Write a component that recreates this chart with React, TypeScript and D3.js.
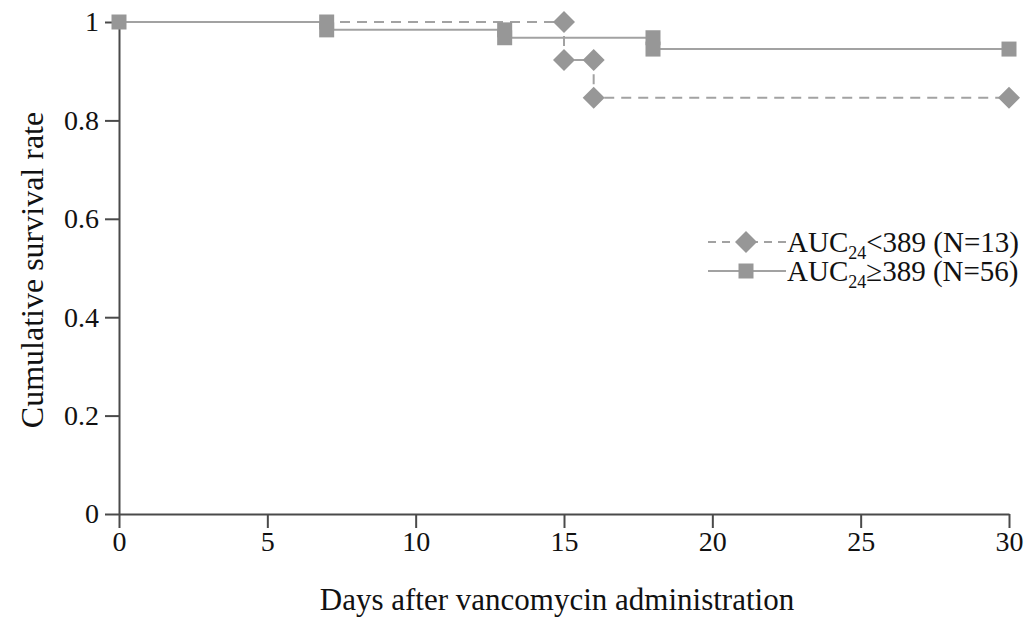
import React, { Component } from "react";
import * as d3 from "d3";

// Kaplan-Meier data
const xTicks = [0, 5, 10, 15, 20, 25, 30];
const yTicks = [0, 0.2, 0.4, 0.6, 0.8, 1];

// AUC24 < 389 (N=13), dashed with diamonds
const lowCurve = [[0, 1], [15, 0.923], [16, 0.846], [30, 0.846]];
const lowMarks = [[15, 1], [15, 0.923], [16, 0.923], [16, 0.846], [30, 0.846]];

// AUC24 >= 389 (N=56), solid with squares
const highCurve = [[0, 1], [7, 0.984], [13, 0.968], [18, 0.945], [30, 0.945]];
const highMarks = [[0, 1], [7, 1], [7, 0.984], [13, 0.984], [13, 0.968], [18, 0.968], [18, 0.945], [30, 0.945]];

const legendItems = [
  { sub: "24", rest: "<389 (N=13)", dashed: true },
  { sub: "24", rest: "\u2265389 (N=56)", dashed: false }
];

const W = 1028, H = 617;
const lineColor = "#a2a2a2";
const markColor = "#979797";
const axisColor = "#4a4a4a";
const font = "'Liberation Serif', 'Times New Roman', serif";

class App extends Component {
  svgRef = React.createRef<SVGSVGElement>();

  componentDidMount() {
    const svg = d3.select(this.svgRef.current);
    svg.selectAll("*").remove();

    const x = d3.scaleLinear().domain([0, 30]).range([119, 1009]);
    const y = d3.scaleLinear().domain([0, 1]).range([514, 22]);

    // axes
    const xAxis = svg.append("g").attr("transform", `translate(0,${y(0)})`)
      .call(d3.axisBottom(x).tickValues(xTicks).tickSize(14).tickPadding(3).tickSizeOuter(0).tickFormat(d3.format("d")));
    const yAxis = svg.append("g").attr("transform", `translate(${x(0)},0)`)
      .call(d3.axisLeft(y).tickValues(yTicks).tickSize(14).tickPadding(6).tickSizeOuter(0).tickFormat(d => d === 0 || d === 1 ? String(d) : d3.format(".1f")(d as number)));
    [xAxis, yAxis].forEach(a => {
      a.select(".domain").attr("stroke", axisColor).attr("stroke-width", 2);
      a.selectAll(".tick line").attr("stroke", axisColor).attr("stroke-width", 2);
      a.selectAll(".tick text").attr("fill", "#111").style("font-family", font).style("font-size", "28px");
    });

    const line = d3.line<number[]>().x(d => x(d[0])).y(d => y(d[1])).curve(d3.curveStepAfter);

    svg.append("path").attr("d", line(lowCurve)).attr("fill", "none")
      .attr("stroke", lineColor).attr("stroke-width", 2).attr("stroke-dasharray", "10,7");
    svg.append("path").attr("d", line(highCurve)).attr("fill", "none")
      .attr("stroke", lineColor).attr("stroke-width", 2);

    const diamond = (cx: number, cy: number, r: number) => `M${cx},${cy - r}L${cx + r},${cy}L${cx},${cy + r}L${cx - r},${cy}Z`;

    svg.append("g").selectAll("path").data(lowMarks).join("path")
      .attr("d", d => diamond(x(d[0]), y(d[1]), 11)).attr("fill", markColor);
    svg.append("g").selectAll("rect").data(highMarks).join("rect")
      .attr("x", d => x(d[0]) - 7.5).attr("y", d => y(d[1]) - 7.5)
      .attr("width", 15).attr("height", 15).attr("fill", markColor);

    // legend
    const lg = svg.append("g").selectAll("g").data(legendItems).join("g")
      .attr("transform", (d, i) => `translate(708,${242 + i * 29})`);
    lg.append("line").attr("x1", 0).attr("x2", 78).attr("stroke", lineColor).attr("stroke-width", 2)
      .attr("stroke-dasharray", d => d.dashed ? "8,6" : null);
    lg.append("path").attr("d", d => d.dashed ? diamond(38, 0, 11) : "M30.5,-7.5h15v15h-15Z").attr("fill", markColor);
    const txt = lg.append("text").attr("x", 79).attr("y", 10).attr("fill", "#111")
      .style("font-family", font).style("font-size", "29px");
    txt.append("tspan").text("AUC");
    txt.append("tspan").attr("dy", 7).style("font-size", "18px").text(d => d.sub);
    txt.append("tspan").attr("dy", -7).text(d => d.rest);

    // axis titles
    svg.append("text").attr("x", 557).attr("y", 610).attr("text-anchor", "middle").attr("fill", "#111")
      .style("font-family", font).style("font-size", "31px").text("Days after vancomycin administration");
    svg.append("text").attr("transform", `translate(43,270) rotate(-90)`).attr("text-anchor", "middle").attr("fill", "#111")
      .style("font-family", font).style("font-size", "32px").text("Cumulative survival rate");
  }

  render() {
    return (
      <svg ref={this.svgRef} width={W} height={H}
        style={{ position: "absolute", left: 0, top: 0, background: "#fff" }}></svg>
    );
  }
}

export default App;
